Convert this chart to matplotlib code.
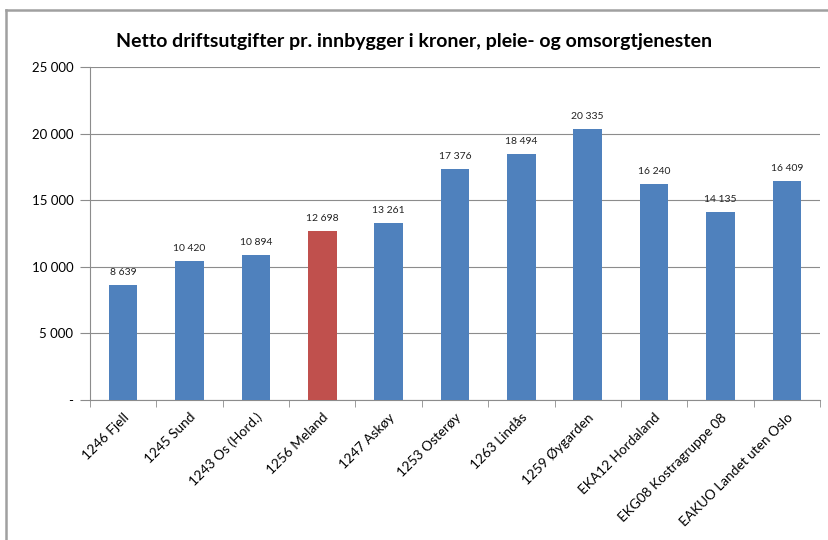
import matplotlib
matplotlib.use("Agg")
import matplotlib.pyplot as plt
from matplotlib.lines import Line2D

categories = ["1246 Fjell", "1245 Sund", "1243 Os (Hord.)", "1256 Meland", "1247 Askøy",
              "1253 Osterøy", "1263 Lindås", "1259 Øygarden", "EKA12 Hordaland",
              "EKG08 Kostragruppe 08", "EAKUO Landet uten Oslo"]
values = [8639, 10420, 10894, 12698, 13261, 17376, 18494, 20335, 16240, 14135, 16409]
highlight = "1256 Meland"
yticks = [0, 5000, 10000, 15000, 20000, 25000]
title = "Netto driftsutgifter pr. innbygger i kroner, pleie- og omsorgtjenesten"

def fmt(v):
    return "-" if v == 0 else f"{v:,}".replace(",", " ")

plt.rcParams['font.family'] = ['Lato', 'DejaVu Sans']
fig = plt.figure(figsize=(8.29, 5.40), dpi=100)
ax = fig.add_axes([90/829, 1-400/540, 730/829, 333/540])

colors = ["#C0504D" if c == highlight else "#4F81BD" for c in categories]
x = list(range(len(categories)))
ax.bar(x, values, width=0.43, color=colors, zorder=3)
for xi, v in zip(x, values):
    ax.text(xi, v + 600, fmt(v), ha="center", va="bottom", fontsize=7.5, color="#222222")

ax.set_xlim(-0.5, len(categories) - 0.5)
ax.set_ylim(0, 25000)
ax.set_yticks(yticks)
ax.set_yticklabels([fmt(v) for v in yticks], fontsize=9.5)
ax.yaxis.grid(True, color="#8c8c8c", linewidth=0.8, zorder=0)
ax.tick_params(axis="y", length=7, color="#8c8c8c", pad=5)

ax.set_xticks([i + 0.5 for i in range(-1, len(categories))], minor=True)
ax.set_xticks(x)
ax.set_xticklabels(categories, rotation=45, ha="right", rotation_mode="anchor", fontsize=9.8)
ax.tick_params(axis="x", which="major", length=0, pad=8)
ax.tick_params(axis="x", which="minor", length=5, color="#8c8c8c")

for s in ["top", "right"]:
    ax.spines[s].set_visible(False)
ax.spines["left"].set_color("#8c8c8c")
ax.spines["bottom"].set_color("#8c8c8c")

fig.text(0.5, 1-42/540, title, ha="center", va="center", fontsize=14, fontweight="bold")

fig.add_artist(Line2D([6/829, 6/829], [0, 1-10/540], transform=fig.transFigure, color="#a0a0a0", lw=1.8))
fig.add_artist(Line2D([6/829, 1], [1-10/540, 1-10/540], transform=fig.transFigure, color="#a0a0a0", lw=1.8))

fig.savefig("out.png", dpi=100)
